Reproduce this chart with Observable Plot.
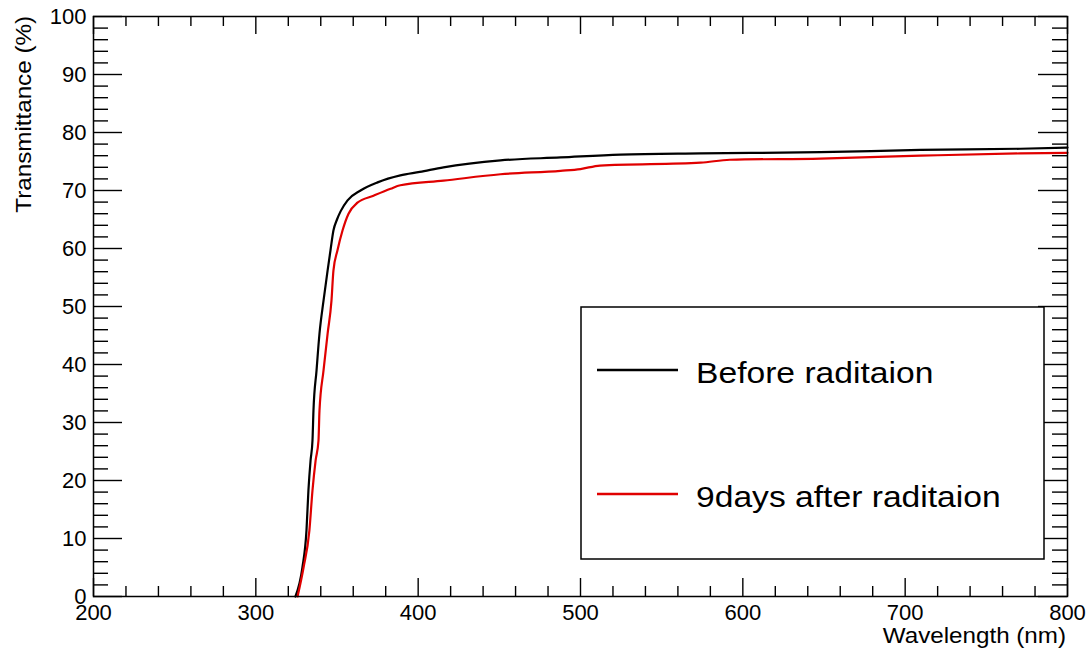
<!DOCTYPE html>
<html>
<head>
<meta charset="utf-8">
<script src="https://cdn.jsdelivr.net/npm/d3@7"></script>
<script src="https://cdn.jsdelivr.net/npm/@observablehq/plot@0.6"></script>
<style>
  html, body { margin: 0; padding: 0; background: white; }
  #chart { width: 1091px; height: 650px; }
</style>
</head>
<body>
<div id="chart"></div>
<script>
// ---- data ----
const wavelengthBefore = [324.4,328.7,331.2,332.4,333.7,334.9,335.5,337.4,339.2,341.7,344.2,346.0,347.8,350.0,352.2,356.5,364.5,375,389,401,415.6,450.7,487.7,524.6,574,647.8,709.4,771,800];
const transBefore      = [0,5,11.4,18.3,23.4,26.9,32,39,45.3,51,56.2,59.7,63.1,65.0,66.4,68.3,70,71.4,72.6,73.2,74,75.2,75.7,76.2,76.4,76.6,77,77.2,77.4];
const wavelengthAfter  = [325.7,329.4,333,334.9,336.8,338.6,339.2,341.7,344.2,346.6,347.8,350.3,353.4,357.1,362.6,372.5,383,389,415.6,450.7,487.7,500,512,574,592,647.8,709.4,771,800];
const transAfter       = [0,5,11.4,18.3,23.4,26.9,32,39,45.3,51,56.2,59.7,63.1,66,67.9,69.1,70.3,70.9,71.7,72.8,73.4,73.7,74.3,74.8,75.3,75.5,76,76.4,76.5];
const seriesNames  = ["Before raditaion", "9days after raditaion"];
const seriesColors = ["#000000", "#e00000"];
const xMajor = [200,300,400,500,600,700,800];
const xMinor = d3.range(200, 801, 20).filter(v => v % 100 !== 0);
const yMajor = [0,10,20,30,40,50,60,70,80,90,100];
const yMinor = d3.range(0, 101, 2).filter(v => v % 10 !== 0);
const xTitle = "Wavelength (nm)";
const yTitle = "Transmittance (%)";

const rows = [
  ...wavelengthBefore.map((w, i) => ({wl: w, t: transBefore[i], s: seriesNames[0]})),
  ...wavelengthAfter.map((w, i) => ({wl: w, t: transAfter[i], s: seriesNames[1]}))
];

const W = 1091, H = 650;
const mL = 93, mR = 24, mT = 16, mB = 54;
const pw = W - mL - mR, ph = H - mT - mB;

const yMajLen = 29, yMinLen = 15, xMajLen = 18, xMinLen = 10;
const tickStyle = {stroke: "black", strokeWidth: 1.4};

const plot = Plot.plot({
  width: W, height: H,
  marginLeft: mL, marginRight: mR, marginTop: mT, marginBottom: mB,
  style: {fontFamily: "'Liberation Sans', Arial, sans-serif", fontSize: "22px", color: "black", background: "white"},
  x: {domain: [200, 800]},
  y: {domain: [0, 100]},
  color: {domain: seriesNames, range: seriesColors},
  marks: [
    // ticks (ROOT style, inward on all four sides)
    Plot.tickY(yMajor, {y: d => d, insetRight: pw - yMajLen, ...tickStyle}),
    Plot.tickY(yMinor, {y: d => d, insetRight: pw - yMinLen, ...tickStyle}),
    Plot.tickY(yMajor, {y: d => d, insetLeft: pw - yMajLen, ...tickStyle}),
    Plot.tickY(yMinor, {y: d => d, insetLeft: pw - yMinLen, ...tickStyle}),
    Plot.tickX(xMajor, {x: d => d, insetTop: ph - xMajLen, ...tickStyle}),
    Plot.tickX(xMinor, {x: d => d, insetTop: ph - xMinLen, ...tickStyle}),
    Plot.tickX(xMajor, {x: d => d, insetBottom: ph - xMajLen, ...tickStyle}),
    Plot.tickX(xMinor, {x: d => d, insetBottom: ph - xMinLen, ...tickStyle}),
    Plot.axisY({ticks: yMajor, tickSize: 0, tickPadding: 7, tickFormat: d3.format("d"), label: null, anchor: "left"}),
    Plot.axisX({ticks: xMajor, tickSize: 0, tickPadding: 8, tickFormat: d3.format("d"), label: null, anchor: "bottom"}),
    Plot.line(rows, {x: "wl", y: "t", z: "s", stroke: "s", strokeWidth: 2.2, strokeLinejoin: "round", curve: "monotone-x"}),
    Plot.frame({stroke: "black", strokeWidth: 1.5})
  ]
});

document.getElementById("chart").appendChild(plot);

const svg = d3.select(plot);
const font = "'Liberation Sans', Arial, sans-serif";
// axis titles
svg.append("text")
  .attr("transform", `translate(${W - mR - 1},643) scale(1.1,1)`)
  .attr("text-anchor", "end").attr("font-family", font).attr("font-size", 22).attr("fill", "black")
  .text(xTitle);
svg.append("text")
  .attr("transform", `translate(31,${mT}) rotate(-90) scale(1.1,1)`)
  .attr("text-anchor", "end").attr("font-family", font).attr("font-size", 22).attr("fill", "black")
  .text(yTitle);

// legend
const lg = svg.append("g").attr("class", "legend");
lg.append("rect").attr("x", 581).attr("y", 307).attr("width", 463).attr("height", 252)
  .attr("fill", "white").attr("stroke", "black").attr("stroke-width", 1.5);
const itemY = [370, 494];
seriesNames.forEach((name, i) => {
  lg.append("line").attr("x1", 597).attr("x2", 678).attr("y1", itemY[i]).attr("y2", itemY[i])
    .attr("stroke", seriesColors[i]).attr("stroke-width", 2.4);
  lg.append("text")
    .attr("transform", `translate(696,${itemY[i] + 13}) scale(1.16,1)`)
    .attr("text-anchor", "start")
    .attr("font-family", font).attr("font-size", 29).attr("fill", "black")
    .text(name);
});
</script>
</body>
</html>
